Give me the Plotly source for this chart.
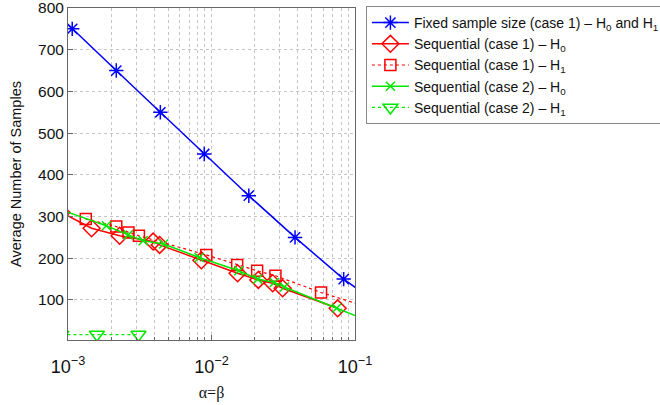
import plotly.graph_objects as go

# Fixed sample size (case 1) - H0 and H1
alpha_fixed = [0.0008, 0.00107, 0.00217, 0.0044, 0.0089, 0.0182, 0.0382, 0.0834, 0.12]
n_fixed = [792, 750, 650, 550, 450, 350, 250, 150, 111]

# Sequential (case 1) - H0
alpha_seq1_h0 = [0.0009, 0.00146, 0.00229, 0.00392, 0.00435, 0.0085, 0.0152, 0.0212, 0.0267, 0.0313, 0.0757]
n_seq1_h0 = [310, 272, 254, 240, 232, 195, 164, 148, 140, 128, 80]

# Sequential (case 1) - H1
alpha_seq1_h1 = [0.00133, 0.00217, 0.00264, 0.00312, 0.0092, 0.0151, 0.0208, 0.0279, 0.058, 0.13]
n_seq1_h1 = [294, 276, 262, 254, 208, 184, 170, 158, 118, 80]

# Sequential (case 2) - H0
alpha_seq2_h0 = [0.0009, 0.00185, 0.00263, 0.00334, 0.00464, 0.0082, 0.0155, 0.021, 0.0274, 0.0322, 0.0745, 0.12]
n_seq2_h0 = [316, 278, 256, 242, 234, 202, 170, 150, 142, 131, 80, 52]

# Sequential (case 2) - H1
alpha_seq2_h1 = [0.0009, 0.00159, 0.0031]
n_seq2_h1 = [17, 17, 17]

names = [
    "Fixed sample size (case 1) – H<sub>0</sub> and H<sub>1</sub>",
    "Sequential (case 1) – H<sub>0</sub>",
    "Sequential (case 1) – H<sub>1</sub>",
    "Sequential (case 2) – H<sub>0</sub>",
    "Sequential (case 2) – H<sub>1</sub>",
]

BLUE = "#0000ff"
RED = "#ff0000"
GREEN = "#00e600"

fig = go.Figure()
fig.add_trace(go.Scatter(
    x=alpha_fixed, y=n_fixed, name=names[0], mode="lines+markers",
    line=dict(color=BLUE, width=1.5),
    marker=dict(symbol="asterisk-open", size=12, color=BLUE, line=dict(color=BLUE, width=1.5)),
))
fig.add_trace(go.Scatter(
    x=alpha_seq1_h0, y=n_seq1_h0, name=names[1], mode="lines+markers",
    line=dict(color=RED, width=1.5),
    marker=dict(symbol="diamond-open", size=13, color=RED, line=dict(color=RED, width=1.5)),
))
fig.add_trace(go.Scatter(
    x=alpha_seq1_h1, y=n_seq1_h1, name=names[2], mode="lines+markers",
    line=dict(color=RED, width=1.2, dash="dot"),
    marker=dict(symbol="square-open", size=11, color=RED, line=dict(color=RED, width=1.5)),
))
fig.add_trace(go.Scatter(
    x=alpha_seq2_h0, y=n_seq2_h0, name=names[3], mode="lines+markers",
    line=dict(color=GREEN, width=1.5),
    marker=dict(symbol="x-thin-open", size=9, color=GREEN, line=dict(color=GREEN, width=1.5)),
))
fig.add_trace(go.Scatter(
    x=alpha_seq2_h1, y=n_seq2_h1, name=names[4], mode="lines+markers",
    line=dict(color=GREEN, width=1.2, dash="dot"),
    marker=dict(symbol="triangle-down-open", size=13, color=GREEN, line=dict(color=GREEN, width=1.5)),
))

GRID = "#c4c4c4"
AXC = "#666666"

fig.update_xaxes(
    type="log", range=[-3, -1], dtick=1, exponentformat="power",
    title=dict(text="α=β", font=dict(size=16, family="Liberation Serif, Times New Roman, serif"), standoff=10),
    showline=True, linecolor=AXC, linewidth=1, mirror=True,
    ticks="inside", ticklen=5, tickcolor=AXC, ticklabelstandoff=11,
    zeroline=False, tickfont=dict(size=14.5),
    showgrid=True, gridcolor=GRID, griddash="dot", gridwidth=1,
    minor=dict(showgrid=True, gridcolor=GRID, griddash="dot", ticks="inside",
               ticklen=3, tickcolor=AXC, dtick="D1"),
)
fig.update_yaxes(
    range=[4, 800], dtick=100,
    title=dict(text="Average Number of Samples", font=dict(size=14.5), standoff=12),
    showline=True, linecolor=AXC, linewidth=1, mirror=True,
    ticks="inside", ticklen=5, tickcolor=AXC, ticklabeloverflow="allow",
    zeroline=False, tickfont=dict(size=15.5),
    showgrid=True, gridcolor=GRID, griddash="dot", gridwidth=1,
)

fig.update_layout(
    width=660, height=405,
    margin=dict(l=68, r=305, t=8, b=65, autoexpand=False),
    plot_bgcolor="white", paper_bgcolor="white",
    font=dict(family="Liberation Sans, Arial, sans-serif", color="#111111", size=14),
    legend=dict(
        x=1.038, y=1.006, xanchor="left", yanchor="top",
        bgcolor="white", bordercolor="#888888", borderwidth=1,
        font=dict(size=14), tracegroupgap=0, itemwidth=37,
    ),
)

fig.write_html("out.html", config={"displayModeBar": False},
               post_script="document.body.style.margin='0';")
